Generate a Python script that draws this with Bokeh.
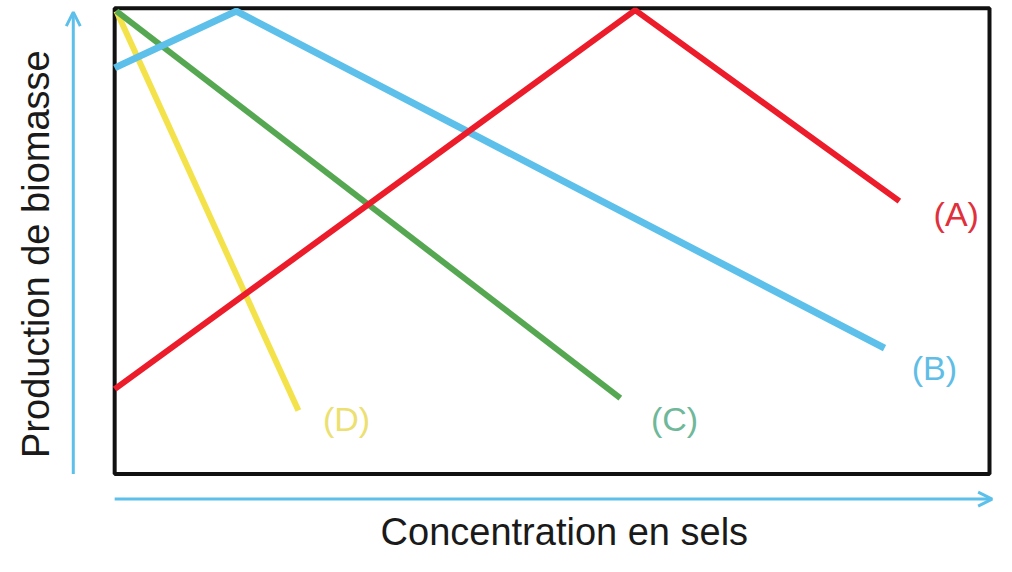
from bokeh.plotting import figure
from bokeh.models import Range1d, Arrow, OpenHead
from bokeh.core.properties import value
from bokeh.embed import file_html
from bokeh.resources import INLINE
import math

# ---- data (concentration en sels -> production de biomasse), box = 0..100 ----
a_x = [0, 59.5, 89.7]
a_y = [18.2, 99.6, 58.6]
b_x = [0, 13.9, 88.0]
b_y = [87.2, 99.4, 27.0]
c_x = [0.2, 57.8]
c_y = [99.4, 16.3]
d_x = [0.2, 21.0]
d_y = [99.4, 13.6]

labels = ["(A)", "(B)", "(C)", "(D)"]
label_x = [96.2, 93.7, 64.0, 26.5]
label_y = [55.9, 22.8, 11.9, 11.9]

x_title = "Concentration en sels"
y_title = "Production de biomasse"

# ---- styles ----
RED = "#ec1c2a"
BLUE = "#5cc0ea"
GREEN = "#55a851"
YELLOW = "#f3e24a"
label_colors = ["#e0303c", "#60bde6", "#6fb89a", "#ece070"]
FONT = "Liberation Sans"

p = figure(width=996, height=556, output_backend="svg", toolbar_location=None,
           x_range=Range1d(-13.05, 100.8), y_range=Range1d(-17.74, 101.68),
           min_border=0, min_border_left=0, min_border_right=0,
           min_border_top=0, min_border_bottom=0)
p.axis.visible = False
p.grid.visible = False
p.outline_line_color = None
p.background_fill_color = "white"

# frame box
p.quad(left=[0], right=[100], bottom=[0], top=[100], fill_color=None,
       line_color="#111111", line_width=4)

# series
p.line(d_x, d_y, line_color=YELLOW, line_width=6)
p.line(c_x, c_y, line_color=GREEN, line_width=6)
p.line(b_x, b_y, line_color=BLUE, line_width=7)
p.line(a_x, a_y, line_color=RED, line_width=6)

# labels
p.text(x=label_x, y=label_y, text=labels, text_color=label_colors,
       text_font=value(FONT), text_font_size="34px",
       text_align="center", text_baseline="middle")

# axis arrows
p.add_layout(Arrow(end=OpenHead(size=14, line_color=BLUE, line_width=3),
                   x_start=-4.73, y_start=0, x_end=-4.73, y_end=99.2,
                   line_color=BLUE, line_width=3))
p.add_layout(Arrow(end=OpenHead(size=14, line_color=BLUE, line_width=3),
                   x_start=0, y_start=-5.41, x_end=100.3, y_end=-5.41,
                   line_color=BLUE, line_width=3))

# axis titles
p.text(x=[51.4], y=[-12.4], text=[x_title], text_color="#1a1a1a",
       text_font=value(FONT), text_font_size="38px",
       text_align="center", text_baseline="middle")
p.text(x=[-9.0], y=[47.2], text=[y_title], text_color="#1a1a1a",
       text_font=value(FONT), text_font_size="38px", angle=math.pi / 2,
       text_align="center", text_baseline="middle")

open("out.html", "w").write(file_html(p, INLINE))
